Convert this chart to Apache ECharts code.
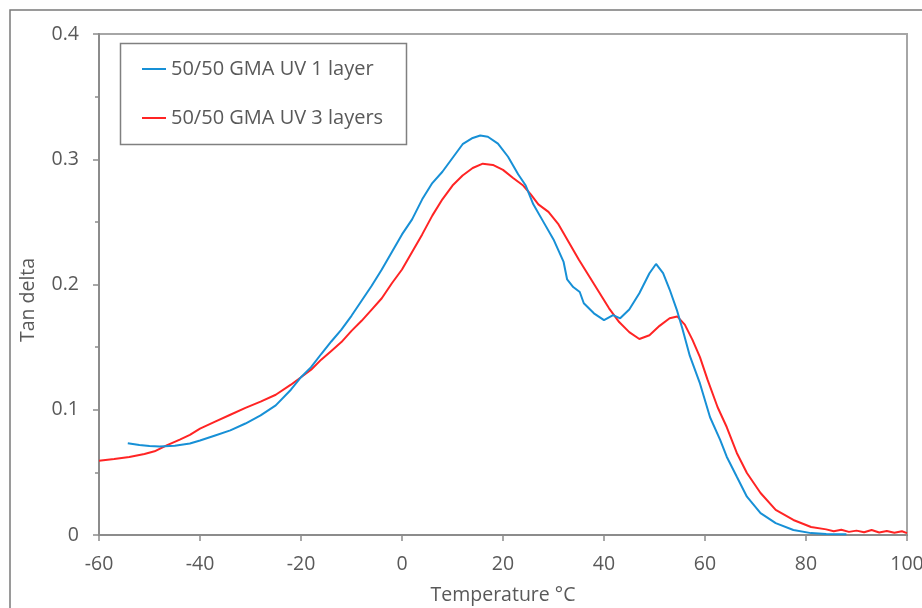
<!DOCTYPE html>
<html>
<head>
<meta charset="utf-8">
<script src="https://cdn.jsdelivr.net/npm/echarts@6/dist/echarts.min.js"></script>
<style>
html,body{margin:0;padding:0;background:#fff;}
#chart{width:922px;height:608px;}
</style>
</head>
<body>
<div id="chart"></div>
<script>
// ---- Data ----
var seriesNames = ["50/50 GMA UV 1 layer", "50/50 GMA UV 3 layers"];
var xTicks = [-60, -40, -20, 0, 20, 40, 60, 80, 100];
var yTicks = [0, 0.1, 0.2, 0.3, 0.4];

var tempBlue = [-54.3,-52,-50,-48,-45,-42,-40,-37,-34,-31,-28,-25,-22,-20,-18,-16,-14,-12,-10,-8,-6,-4,-2,0,2,4,6,8,10,12,14,15.5,17,19,21,23,24.5,26,28,30,32,32.7,33.9,35.2,36,38,40,41.8,43.2,45,47,49,50.3,51.7,53,54.4,55.5,57,59,61,63,64.3,66.3,68.3,71,74,77.5,81,84,88];
var tanBlue = [0.0732,0.0718,0.0710,0.0706,0.0712,0.0730,0.0755,0.0795,0.0835,0.0890,0.0955,0.1035,0.1160,0.1260,0.1340,0.1445,0.1545,0.1640,0.1750,0.1870,0.1990,0.2120,0.2260,0.2400,0.2520,0.2680,0.2810,0.2900,0.3010,0.3120,0.3170,0.3190,0.3180,0.3125,0.3020,0.2880,0.2790,0.2640,0.2500,0.2360,0.2180,0.2040,0.1980,0.1940,0.1850,0.1770,0.1715,0.1756,0.1730,0.1800,0.1930,0.2090,0.2164,0.2090,0.1960,0.1800,0.1650,0.1430,0.1210,0.0940,0.0760,0.0625,0.0465,0.0306,0.0175,0.0095,0.0040,0.0015,0.0008,0.0005];

var tempRed = [-60,-57,-54,-51,-49,-46.5,-44,-42,-40,-37,-34,-31,-28,-25,-22,-20,-18,-16,-14,-12,-10,-8,-6,-4,-2,0,2,4,6,8,10,12,14,16,18,20,22,24,25.5,27,29,31,33,35,37,39,41,43,45,47,49,51,53,54.5,56,57.5,59,60.5,62.5,64.3,66.3,68.3,71,74,77.5,81,84,85.5,87,88.5,90,91.5,93,94.5,96,97.5,99,100];
var tanRed = [0.0593,0.0607,0.0622,0.0647,0.0668,0.0718,0.0762,0.0800,0.0850,0.0905,0.0960,0.1015,0.1065,0.1120,0.1200,0.1260,0.1320,0.1400,0.1470,0.1540,0.1630,0.1710,0.1800,0.1890,0.2010,0.2120,0.2260,0.2400,0.2550,0.2680,0.2790,0.2870,0.2930,0.2965,0.2955,0.2915,0.2850,0.2790,0.2720,0.2640,0.2580,0.2480,0.2340,0.2200,0.2070,0.1940,0.1810,0.1700,0.1620,0.1565,0.1595,0.1670,0.1730,0.1745,0.1680,0.1560,0.1420,0.1240,0.1020,0.0862,0.0655,0.0495,0.0335,0.0200,0.0120,0.0064,0.0045,0.0030,0.0042,0.0025,0.0035,0.0022,0.0040,0.0020,0.0032,0.0018,0.0030,0.0015];

function zip(a, b) { return a.map(function (v, i) { return [v, b[i]]; }); }

var FONT = "'Open Sans', 'Noto Sans', sans-serif";
var TXT = '#595959';
var AX = '#8c8c8c';
var BLUE = '#1790d6';
var RED = '#ff2424';

var chart = echarts.init(document.getElementById('chart'), null, {renderer: 'canvas'});
chart.setOption({
  animation: false,
  backgroundColor: '#ffffff',
  textStyle: {fontFamily: FONT},
  grid: {left: 99, top: 34, right: 15, bottom: 73, containLabel: false, outerBoundsMode: 'none',
    show: true, borderColor: '#a6a6a6', borderWidth: 2, backgroundColor: 'transparent'},
  legend: {
    orient: 'vertical', left: 142, top: 59, padding: 0, itemGap: 29,
    itemWidth: 24, itemHeight: 2,
    icon: 'rect',
    data: seriesNames,
    textStyle: {fontFamily: FONT, fontSize: 20, color: TXT, lineHeight: 20}
  },
  xAxis: {
    type: 'value', min: xTicks[0], max: xTicks[xTicks.length - 1], interval: 20,
    name: 'Temperature °C', nameLocation: 'middle', nameGap: 50,
    nameTextStyle: {fontFamily: FONT, fontSize: 19.5, color: TXT},
    axisLine: {show: true, onZero: false, lineStyle: {color: AX, width: 2}},
    axisTick: {show: true, inside: false, length: 6, lineStyle: {color: AX, width: 1.5}},
    axisLabel: {fontFamily: FONT, fontSize: 19.5, color: TXT, margin: 19},
    splitLine: {show: false}
  },
  yAxis: {
    type: 'value', min: yTicks[0], max: yTicks[yTicks.length - 1], interval: 0.1,
    axisLine: {show: true, onZero: false, lineStyle: {color: AX, width: 2}},
    axisTick: {show: true, inside: false, length: 6, lineStyle: {color: AX, width: 1.5}},
    minorTick: {show: true, splitNumber: 2, length: 4, lineStyle: {color: AX, width: 1.5}},
    axisLabel: {fontFamily: FONT, fontSize: 19.5, color: TXT, margin: 20,
      formatter: function (v) { return v === 0 ? '0' : v.toFixed(1); }},
    splitLine: {show: false}
  },
  graphic: [
    {type: 'rect', silent: true, shape: {x: 10, y: 10, width: 1000, height: 800},
      style: {fill: 'none', stroke: '#7a7a7a', lineWidth: 1.5}},
    {type: 'rect', silent: true, shape: {x: 120.5, y: 43.5, width: 286, height: 101},
      style: {fill: 'none', stroke: '#808080', lineWidth: 1.5}, z: 100},
    {type: 'text', silent: true, x: 28, y: 300, rotation: Math.PI / 2,
      style: {text: 'Tan delta', fontFamily: FONT, fontSize: 19.5, fill: TXT, align: 'center', verticalAlign: 'middle'}}
  ],
  series: [
    {name: seriesNames[0], type: 'line', data: zip(tempBlue, tanBlue), symbol: 'none', showSymbol: false,
      lineStyle: {color: BLUE, width: 2}, itemStyle: {color: BLUE}, z: 3},
    {name: seriesNames[1], type: 'line', data: zip(tempRed, tanRed), symbol: 'none', showSymbol: false,
      lineStyle: {color: RED, width: 2}, itemStyle: {color: RED}, z: 2}
  ]
});
</script>
</body>
</html>
